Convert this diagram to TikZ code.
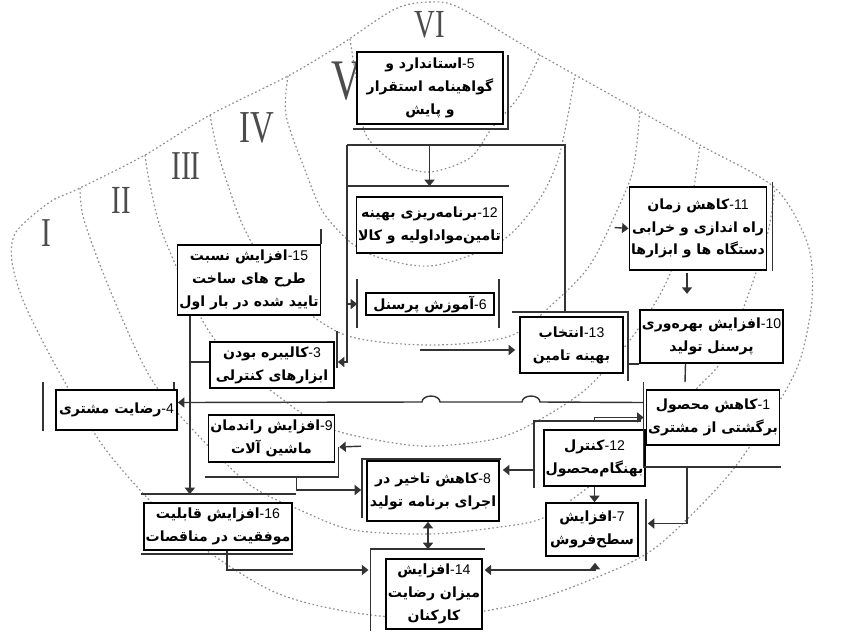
\documentclass[tikz,border=0pt]{standalone}
\usepackage{fontspec}
\usepackage{graphicx}
\usetikzlibrary{arrows.meta,calc}
\TeXXeTstate=1
\newfontfamily\arabicfont[Script=Arabic]{DejaVu Sans}
\newfontfamily\latinfont{Liberation Sans}
\newfontfamily\romanfont{Liberation Serif}
\newcommand{\fa}[1]{\beginR #1\endR}
\newcommand{\nr}[1]{\beginL{\latinfont\mdseries -#1}\endL}
\newcommand{\rn}[2]{\scalebox{0.72}[1]{\romanfont\fontsize{#1}{#1}\selectfont #2}}
\pgfdeclarelayer{back}
\pgfsetlayers{back,main}

\begin{document}
\begin{tikzpicture}[%
        x=0.03cm, y=-0.03cm,
        module/.style={%
            draw=black,%
            line width=1.4pt,%
            fill=white,%
            inner sep=1.5pt,%
            align=center,%
            font=\arabicfont\bfseries\fontsize{12}{19.5}\selectfont%
        },%
        sz/.style 2 args={minimum width=#1*0.03cm, minimum height=#2*0.03cm},%
        rim/.style={draw=black!80, line width=1.2pt},%
        conn/.style={rim, -{Triangle[width=8.5pt,length=5.5pt]}},%
        twoway/.style={rim, {Triangle[width=8.5pt,length=5.5pt]}-{Triangle[width=8.5pt,length=5.5pt]}},%
        ringline/.style={draw=black!45, line width=1pt, dash pattern=on 1.4pt off 2.2pt},%
        tier/.style={text=black!70, inner sep=0pt}%
    ]
    \useasboundingbox (0,0) rectangle (842,634);

    % levels
    \node (lv1) at ( 46,233) [tier]{\rn{35}{I}};
    \node (lv2) at (121,200) [tier]{\rn{34}{II}};
    \node (lv3) at (186,166) [tier]{\rn{35}{III}};
    \node (lv4) at (257,128) [tier]{\rn{39}{IV}};
    \node (lv5) at (346, 81) [tier]{\rn{49}{V}};
    \node (lv6) at (430, 25) [tier]{\rn{34}{VI}};

    % boxes
    \node (n5)   at (430, 88)   [module, sz={146}{72}]{\fa{\nr{5}استاندارد و}\\\fa{گواهینامه استقرار}\\\fa{و پایش}};
    \node (n12a) at (429.5,225) [module, sz={135}{56}]{\fa{\nr{12}برنامه‌ریزی بهینه}\\\fa{تامین‌مواداولیه و کالا}};
    \node (n6)   at (430,304)   [module, sz={128}{22}]{\fa{\nr{6}آموزش پرسنل}};
    \node (n11)  at (698,228.5) [module, sz={134}{83}]{\fa{\nr{11}کاهش زمان}\\\fa{راه اندازی و خرابی}\\\fa{دستگاه ها و ابزارها}};
    \node (n10)  at (711.5,336.5) [module, sz={141}{53}]{\fa{\nr{10}افزایش بهره‌وری}\\\fa{پرسنل تولید}};
    \node (n13)  at (571.5,345) [module, sz={103}{56}]{\fa{\nr{13}انتخاب}\\\fa{بهینه تامین}};
    \node (n15)  at (249,280)   [module, sz={128}{70}]{\fa{\nr{15}افزایش نسبت}\\\fa{طرح های ساخت}\\\fa{تایید شده در بار اول}};
    \node (n3)   at (272,365)   [module, sz={124}{46}]{\fa{\nr{3}کالیبره بودن}\\\fa{ابزارهای کنترلی}};
    \node (n4)   at (116.5,410) [module, sz={121}{40}]{\fa{\nr{4}رضایت مشتری}};
    \node (n9)   at (271.5,438.5) [module, sz={121}{47}]{\fa{\nr{9}افزایش راندمان}\\\fa{ماشین آلات}};
    \node (n8)   at (433,491)   [module, sz={132}{60}]{\fa{\nr{8}کاهش تاخیر در}\\\fa{اجرای برنامه تولید}};
    \node (n1)   at (713,417.5) [module, sz={128}{55}]{\fa{\nr{1}کاهش محصول}\\\fa{برگشتی از مشتری}};
    \node (n12b) at (594.5,458) [module, sz={97}{56}]{\fa{\nr{12}کنترل}\\\fa{بهنگام‌محصول}};
    \node (n7)   at (592,529.5) [module, sz={92}{53}]{\fa{\nr{7}افزایش}\\\fa{سطح‌فروش}};
    \node (n16)  at (218,526.5) [module, sz={132}{47}]{\fa{\nr{16}افزایش قابلیت}\\\fa{موفقیت در مناقصات}};
    \node (n14)  at (434,594)   [module, sz={88}{70}]{\fa{\nr{14}افزایش}\\\fa{میزان رضایت}\\\fa{کارکنان}};

    % side frames
    \draw[rim] ($(n5.north east)+(4,4)$) |- ($(n5.south west)+(-3,4)$);
    \draw[rim] ($(n12a.south west)+(-9,5)$) |- ($(n12a.north east)+(6,-10)$);
    \draw[rim] ($(n6.north west)+(-8,-13)$) -- ($(n6.south west)+(-8,12)$);
    \draw[rim] ($(n6.north east)+(4,-13)$) -- ($(n6.south east)+(4,12)$);
    \draw[rim] ($(n13.north west)+(-7,-4)$) -| ($(n13.south east)+(4,7)$);
    \draw[rim] ($(n11.north east)+(5,-4)$) -- ($(n11.south east)+(5,0)$);
    \draw[rim] ($(n15.north east)+(0,-15)$) -- (n15.north east);
    \draw[rim] ($(n3.north east)+(2,-10)$) -- ($(n3.east)+(2,3)$);
    \draw[rim] ($(n4.south west)+(-12,0)$) -- ($(n4.north west)+(-12,-7)$);
    \draw[rim] ($(n4.north east)+(-4,-7)$) -- ($(n4.north east)+(-4,0)$);
    \draw[rim] ($(n9.south west)+(-3,14)$) -| ($(n9.east)+(3,8)$);
    \draw[rim] ($(n8.south west)+(-4,-4)$) |- ($(n8.north east)+(1,-1)$);
    \draw[rim] ($(n1.north west)+(-2,-7)$) |- ($(n1.south east)+(1,21)$);
    \draw[rim] ($(n12b.south west)+(-9,1)$) |- ($(n12b.north east)+(-5,-8)$);
    \draw[rim] ($(n7.north east)+(7,-3)$) -- ($(n7.south east)+(7,4)$);
    \draw[rim] ($(n16.north west)+(-2,-8)$) -- ($(n16.north east)+(3,-8)$);
    \draw[rim] ($(n16.south west)+(-2,3)$) -- ($(n16.south east)+(0,3)$);
    \draw[rim] ($(n14.south west)+(-15,1)$) |- ($(n14.north east)+(2,-9)$);

    % connectors
    \coordinate (tl) at (347,145);
    \coordinate (tr) at (565,145);
    \draw[rim] (tl) -- (tr) -- ($(tr |- n13.north)+(0,-4)$);
    \draw[conn] (n12a.north |- tl) -- ($(n12a.north)+(0,-10)$);
    \draw[conn] (tl) |- ($(n3.east)+(3,-3)$);
    \draw[conn] (tl |- n6.west) -- ($(n6.west)+(-8,0)$);
    \coordinate (s13) at (420,350);
    \draw[conn] (s13) -- ($(n13.west)+(-4,5)$);
    \draw[rim] ($(n13.south east)+(4,-10)$) -- (n10.south west);
    \draw[conn] ($(n11.south)+(-11,2)$) -- ($(n11.south)+(-11,23)$);
    \draw[rim] ($(n10.south)+(-26,0)$) -- ($(n1.north)+(-28,-7)$);
    \draw[conn] ($(n11.west)+(-14,-1)$) -- (n11.west);

    \coordinate (s1) at ($(n1.west)+(-2,-15)$);
    \draw[conn] (s1) -- (540,402) arc[start angle=0, end angle=-180, x radius=9, y radius=6]
        -- (440,402) arc[start angle=0, end angle=-180, x radius=9, y radius=6]
        -- (n4.east |- s1);
    \draw[conn] ($(n12b.north)+(0,-8)$) |- ($(n1.west)+(-2,0)$);
    \draw[conn] (n12b.south) -- (n12b.south |- n7.north);
    \draw[conn] ($(n1.south)+(-26,21)$) |- ($(n7.east)+(9,-6)$);
    \draw[conn] ($(n12b.west)+(-9,12)$) coordinate (c8) -- ($(n8.east |- c8)+(3,0)$);
    \draw[conn] ($(n9.south)+(25,14)$) |- ($(n8.west)+(-5,-1)$);
    \draw[conn] ($(n8.north west)+(-5,-14)$) -- ($(n9.east)+(4,8.5)$);

    \coordinate (k) at ($(n15.south west)+(13,0)$);
    \draw[conn] (k) -- ($(k |- n16.north)+(0,-8)$);
    \draw[rim] ($(k |- n3.west)+(0,-3)$) -- ($(n3.west)+(0,-3)$);
    \draw[conn] ($(n16.south)+(9,0)$) |- ($(n14.west)+(-17,-24)$);
    \draw[twoway] ($(n14.east)+(2,-24)$) -| ($(n7.south)+(3,6)$);
    \draw[twoway] ($(n8.south)+(-5,0)$) -- ($(n14.north)+(-6,-9)$);

    % rings
    \begin{pgfonlayer}{back}
    \fill[white] (0,0) rectangle (842,634);
    \draw[ringline] plot[smooth cycle] coordinates {(12,262) (16,232) (50,202) (80,188) (145,155)
        (210,115) (288,76) (340,45) (395,9) (430,2) (460,8) (540,55) (620,100) (700,145)
        (775,188) (808,245) (812,300) (800,360) (777,405) (727,477) (655,548) (590,580)
        (520,604) (430,618) (350,612) (270,590) (180,530) (106,450) (58,370) (25,305)};
    \draw[ringline] plot[smooth] coordinates {(80,188) (84,220) (110,290) (150,377) (195,432)
        (250,485) (300,510) (353,530) (430,534) (500,527) (545,517) (600,478) (652,432)
        (700,385) (723,358) (750,290) (768,232) (775,188)};
    \draw[ringline] plot[smooth] coordinates {(145,155) (150,185) (165,240) (215,340) (297,410)
        (340,432) (420,446) (490,440) (530,425) (585,390) (630,340) (665,285) (688,220) (700,145)};
    \draw[ringline] plot[smooth] coordinates {(210,115) (220,160) (245,230) (285,292) (345,335)
        (430,345) (510,336) (557,300) (590,265) (615,215) (633,170) (640,111)};
    \draw[ringline] plot[smooth] coordinates {(288,76) (286,115) (305,170) (325,215) (365,252)
        (430,266) (500,242) (537,203) (557,163) (567,120) (575,75)};
    \draw[ringline] plot[smooth] coordinates {(350,39) (358,90) (366,135) (395,163) (430,172)
        (470,158) (492,128) (520,95) (540,55)};
    \end{pgfonlayer}
\end{tikzpicture}
\end{document}
